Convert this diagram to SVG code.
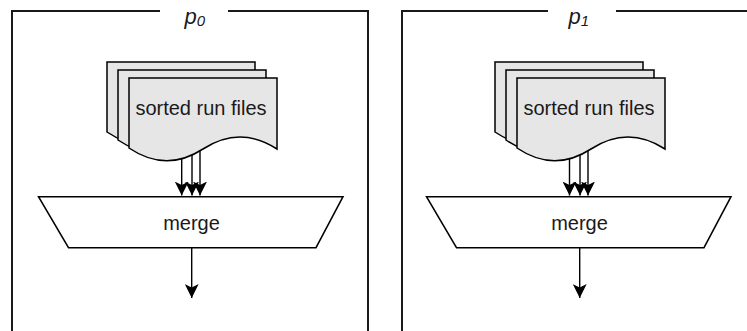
<svg xmlns="http://www.w3.org/2000/svg" width="747" height="331" viewBox="0 0 747 331">
<defs>
<style>
.frame{fill:none;stroke:#1a1a1a;stroke-width:2}
.doc{fill:#e6e6e6;stroke:#000;stroke-width:1.5}
.trap{fill:#fff;stroke:#000;stroke-width:1.5}
.edge{fill:none;stroke:#000;stroke-width:1.4}
.t{font-family:"Liberation Sans",Arial,Helvetica,sans-serif;font-size:20px;fill:#1a1a1a;text-anchor:middle}
.lbl{font-family:"Liberation Sans",Arial,Helvetica,sans-serif;font-style:italic;fill:#1a1a1a}
</style>
<marker id="ah" viewBox="0 0 14 14" refX="14" refY="7" markerWidth="14" markerHeight="14" markerUnits="userSpaceOnUse" orient="auto">
<path d="M0,0 L14,7 L0,14 L3.5,7 Z" fill="#000"/>
</marker>
<path id="docshape" d="M0,0 H148 V71 Q111,47 74,71 Q37,95 0,70 Z"/>
</defs>

<g id="frame-p0">
<path class="frame" d="M160,11 H12 V331 M228,11 H368 V331"/>
<text class="lbl" x="184.5" y="24" font-size="22">p<tspan font-size="15" dy="2">0</tspan></text>
</g>
<g id="frame-p1">
<path class="frame" d="M548,11 H402 V331 M616,11 H760 V331"/>
<text class="lbl" x="568.5" y="24" font-size="22">p<tspan font-size="15" dy="2">1</tspan></text>
</g>

<g id="connectors">
<path class="edge" marker-end="url(#ah)" d="M181.7,135 V195.5"/>
<path class="edge" marker-end="url(#ah)" d="M192,140 V195.5"/>
<path class="edge" marker-end="url(#ah)" d="M200,145 V195.5"/>
<path class="edge" marker-end="url(#ah)" d="M191.7,248 V298"/>
<path class="edge" marker-end="url(#ah)" d="M569.5,135 V195.5"/>
<path class="edge" marker-end="url(#ah)" d="M580,140 V195.5"/>
<path class="edge" marker-end="url(#ah)" d="M588,145 V195.5"/>
<path class="edge" marker-end="url(#ah)" d="M579.7,248 V298"/>
</g>

<g id="runs-p0">
<use href="#docshape" class="doc" x="107" y="62"/>
<use href="#docshape" class="doc" x="118" y="70"/>
<use href="#docshape" class="doc" x="129" y="78"/>
<text class="t" x="201" y="115">sorted run files</text>
</g>
<g id="merge-p0">
<path class="trap" d="M38.5,196.7 H343 L316,247.7 H68.5 Z"/>
<text class="t" x="191.5" y="229.5">merge</text>
</g>

<g id="runs-p1">
<use href="#docshape" class="doc" x="495" y="62"/>
<use href="#docshape" class="doc" x="506" y="70"/>
<use href="#docshape" class="doc" x="517" y="78"/>
<text class="t" x="589" y="115">sorted run files</text>
</g>
<g id="merge-p1">
<path class="trap" d="M426.5,196.7 H731 L704,247.7 H456.5 Z"/>
<text class="t" x="579.5" y="229.5">merge</text>
</g>
</svg>
